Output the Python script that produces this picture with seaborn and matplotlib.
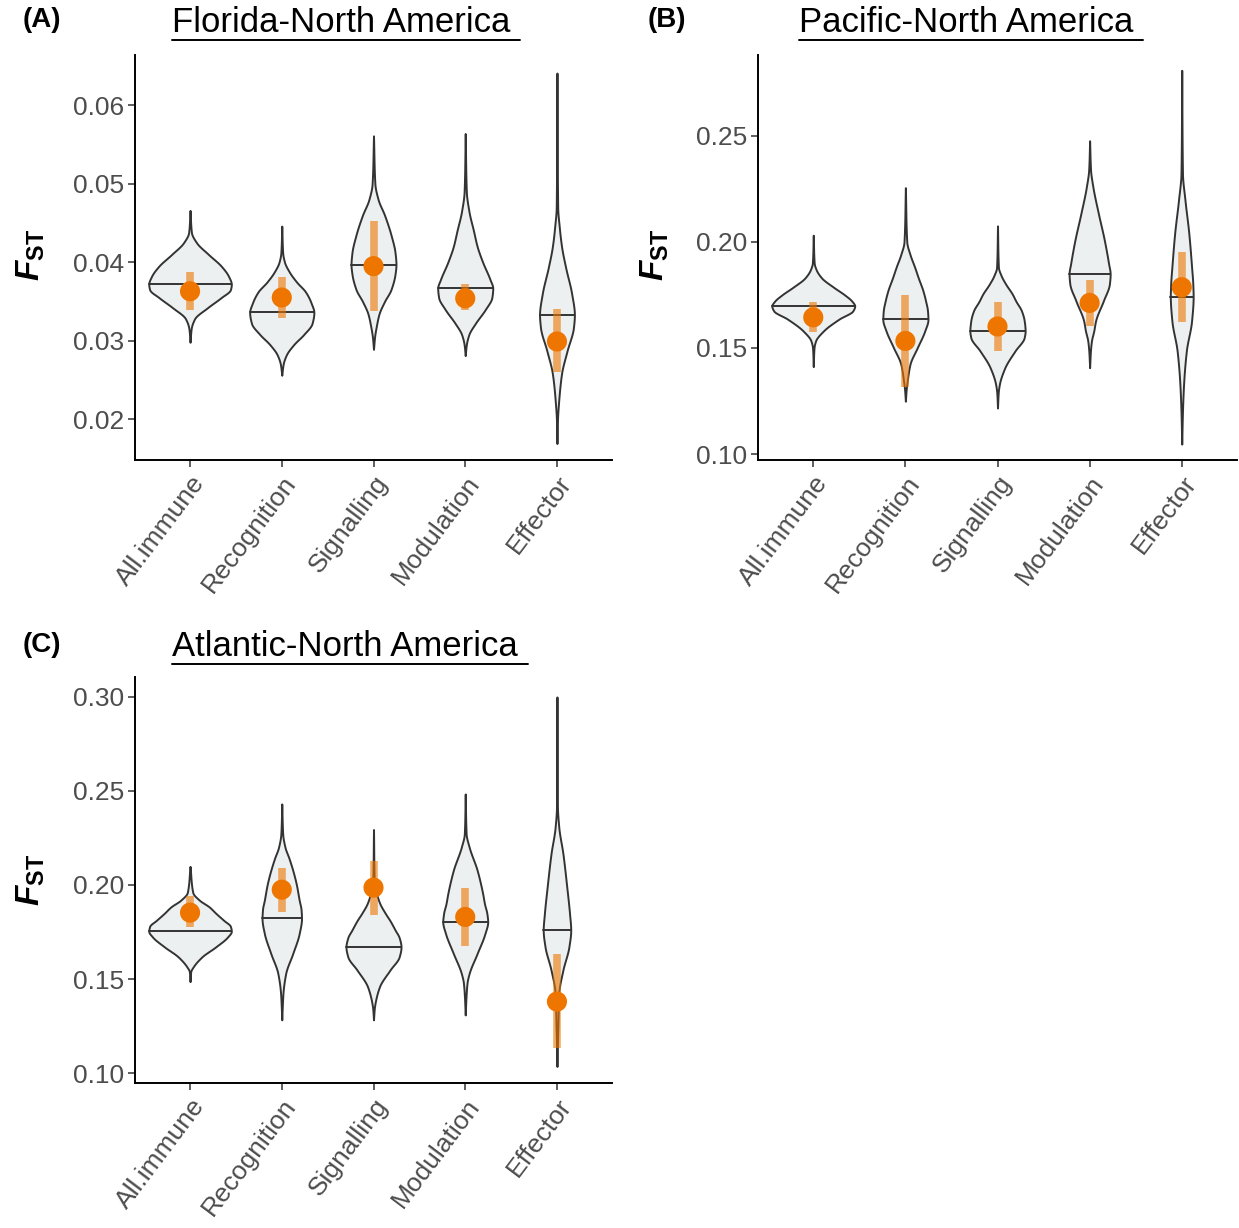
import numpy as np
import matplotlib
matplotlib.use("Agg")
import matplotlib.pyplot as plt
from matplotlib.lines import Line2D
import seaborn as sns

# categories shared by every panel
categories = ["All.immune", "Recognition", "Signalling", "Modulation", "Effector"]
titles = ["Florida-North America ", "Pacific-North America ", "Atlantic-North America "]
tags = ["(A)", "(B)", "(C)"]

# observed FST (orange points) with interval
obs_A = [0.0363, 0.0355, 0.0395, 0.0354, 0.0299]
lo_A = [0.0339, 0.0329, 0.0338, 0.0339, 0.0260]
hi_A = [0.0388, 0.0381, 0.0452, 0.0372, 0.0340]
med_A = [0.0372, 0.0336, 0.0397, 0.0367, 0.0333]

obs_B = [0.1644, 0.1533, 0.1601, 0.1712, 0.1786]
lo_B = [0.1573, 0.1315, 0.1486, 0.1604, 0.1620]
hi_B = [0.1715, 0.1751, 0.1718, 0.1818, 0.1952]
med_B = [0.1698, 0.1634, 0.1580, 0.1849, 0.1742]

obs_C = [0.1853, 0.1975, 0.1986, 0.1830, 0.1380]
lo_C = [0.1777, 0.1855, 0.1841, 0.1677, 0.1133]
hi_C = [0.1940, 0.2092, 0.2127, 0.1984, 0.1631]
med_C = [0.1754, 0.1822, 0.1671, 0.1804, 0.1760]

# null distribution outlines: FST level and half width
vy_A = [
    [0.0298, 0.0315, 0.0328, 0.0342, 0.0355, 0.0365, 0.0372, 0.0382, 0.0395, 0.0410, 0.0425, 0.0438, 0.0466],
    [0.0256, 0.0270, 0.0282, 0.0295, 0.0308, 0.0322, 0.0336, 0.0348, 0.0362, 0.0375, 0.0388, 0.0400, 0.0412, 0.0446],
    [0.0289, 0.0305, 0.0318, 0.0334, 0.0350, 0.0365, 0.0385, 0.0397, 0.0412, 0.0435, 0.0460, 0.0480, 0.0500, 0.0561],
    [0.0281, 0.0295, 0.0308, 0.0322, 0.0340, 0.0355, 0.0367, 0.0378, 0.0400, 0.0420, 0.0440, 0.0465, 0.0490, 0.0564],
    [0.0169, 0.0200, 0.0225, 0.0258, 0.0287, 0.0317, 0.0333, 0.0360, 0.0393, 0.0420, 0.0445, 0.0470, 0.0641],
]
vw_A = [
    [0, 0.012, 0.05, 0.19, 0.34, 0.44, 0.45, 0.42, 0.34, 0.20, 0.07, 0.015, 0],
    [0, 0.015, 0.05, 0.13, 0.24, 0.33, 0.35, 0.32, 0.26, 0.16, 0.08, 0.03, 0.01, 0],
    [0, 0.012, 0.03, 0.06, 0.12, 0.19, 0.235, 0.245, 0.235, 0.19, 0.12, 0.05, 0.015, 0],
    [0, 0.012, 0.04, 0.11, 0.22, 0.29, 0.30, 0.27, 0.19, 0.13, 0.09, 0.04, 0.012, 0],
    [0, 0.006, 0.02, 0.05, 0.11, 0.18, 0.19, 0.16, 0.095, 0.05, 0.025, 0.008, 0],
]
vy_B = [
    [0.1412, 0.1500, 0.1533, 0.1580, 0.1636, 0.1675, 0.1698, 0.1720, 0.1750, 0.1786, 0.1830, 0.1870, 0.1900, 0.2031],
    [0.1249, 0.1300, 0.1344, 0.1423, 0.1502, 0.1580, 0.1634, 0.1675, 0.1720, 0.1770, 0.1830, 0.1881, 0.1940, 0.2000, 0.2255],
    [0.1217, 0.1290, 0.1328, 0.1407, 0.1486, 0.1549, 0.1580, 0.1628, 0.1675, 0.1720, 0.1754, 0.1800, 0.1840, 0.1880, 0.2075],
    [0.1407, 0.1480, 0.1533, 0.1580, 0.1628, 0.1723, 0.1802, 0.1849, 0.1897, 0.2007, 0.2133, 0.2260, 0.2340, 0.2476],
    [0.1047, 0.1200, 0.1328, 0.1486, 0.1628, 0.1742, 0.1802, 0.1881, 0.2039, 0.2197, 0.2323, 0.2808],
]
vw_B = [
    [0, 0.008, 0.025, 0.11, 0.28, 0.43, 0.45, 0.42, 0.34, 0.22, 0.09, 0.03, 0.01, 0],
    [0, 0.008, 0.02, 0.05, 0.13, 0.21, 0.245, 0.24, 0.22, 0.19, 0.14, 0.10, 0.05, 0.015, 0],
    [0, 0.008, 0.02, 0.08, 0.19, 0.29, 0.30, 0.29, 0.26, 0.20, 0.16, 0.09, 0.04, 0.01, 0],
    [0, 0.008, 0.02, 0.045, 0.065, 0.15, 0.215, 0.223, 0.206, 0.16, 0.095, 0.035, 0.01, 0],
    [0, 0.008, 0.02, 0.05, 0.107, 0.124, 0.12, 0.107, 0.077, 0.035, 0.008, 0],
]
vy_C = [
    [0.1486, 0.1540, 0.1565, 0.1618, 0.1671, 0.1724, 0.1754, 0.1780, 0.1813, 0.1850, 0.1883, 0.1920, 0.1960, 0.2099],
    [0.1283, 0.1380, 0.1424, 0.1530, 0.1636, 0.1742, 0.1822, 0.1870, 0.1919, 0.2000, 0.2060, 0.2140, 0.2201, 0.2272, 0.2431],
    [0.1283, 0.1340, 0.1371, 0.1459, 0.1548, 0.1618, 0.1671, 0.1720, 0.1760, 0.1810, 0.1848, 0.1900, 0.1936, 0.1989, 0.2295],
    [0.1309, 0.1400, 0.1480, 0.1530, 0.1636, 0.1742, 0.1804, 0.1848, 0.1900, 0.1954, 0.2078, 0.2201, 0.2272, 0.2484],
    [0.1035, 0.1150, 0.1250, 0.1424, 0.1548, 0.1671, 0.1760, 0.1848, 0.1989, 0.2166, 0.2307, 0.2420, 0.3000],
]
vw_C = [
    [0, 0.008, 0.035, 0.13, 0.28, 0.41, 0.45, 0.44, 0.365, 0.28, 0.21, 0.10, 0.03, 0],
    [0, 0.008, 0.013, 0.043, 0.12, 0.19, 0.215, 0.21, 0.19, 0.16, 0.13, 0.08, 0.035, 0.01, 0],
    [0, 0.008, 0.017, 0.065, 0.18, 0.28, 0.30, 0.28, 0.236, 0.18, 0.13, 0.07, 0.043, 0.01, 0],
    [0, 0.008, 0.02, 0.043, 0.13, 0.215, 0.245, 0.236, 0.21, 0.19, 0.13, 0.043, 0.01, 0],
    [0, 0.005, 0.01, 0.02, 0.065, 0.13, 0.15, 0.137, 0.107, 0.065, 0.02, 0.005, 0],
]

ticks_A = [0.02, 0.03, 0.04, 0.05, 0.06]
ticks_B = [0.10, 0.15, 0.20, 0.25]
ticks_C = [0.10, 0.15, 0.20, 0.25, 0.30]

sns.set_style("ticks")
plt.rcParams["font.family"] = ["Liberation Sans", "DejaVu Sans"]
plt.rcParams["mathtext.fontset"] = "custom"
plt.rcParams["mathtext.bf"] = "Liberation Sans:bold"
plt.rcParams["mathtext.it"] = "Liberation Sans:italic"
plt.rcParams["mathtext.bfit"] = "Liberation Sans:bold:italic"

W, H = 1239, 1228
fig = plt.figure(figsize=(W / 100, H / 100), dpi=100)


def px(x0, y0, x1, y1):
    # pixel box (left, top, right, bottom) -> figure fraction rect
    return [x0 / W, 1 - y1 / H, (x1 - x0) / W, (y1 - y0) / H]


def smooth_outline(y, w, n=300):
    # monotone cubic (pchip) through the read-off outline knots, for drawing only
    y = np.asarray(y, float)
    w = np.asarray(w, float)
    h = np.diff(y)
    d = np.diff(w) / h
    m = np.zeros_like(w)
    m[0], m[-1] = d[0], d[-1]
    for k in range(1, len(w) - 1):
        if d[k - 1] * d[k] > 0:
            a = 2 * h[k] + h[k - 1]
            b = h[k] + 2 * h[k - 1]
            m[k] = (a + b) / (a / d[k - 1] + b / d[k])
    yy = np.linspace(y[0], y[-1], n)
    k = np.clip(np.searchsorted(y, yy) - 1, 0, len(h) - 1)
    t = (yy - y[k]) / h[k]
    h00 = 2 * t**3 - 3 * t**2 + 1
    h10 = t**3 - 2 * t**2 + t
    h01 = -2 * t**3 + 3 * t**2
    h11 = t**3 - t**2
    ww = h00 * w[k] + h10 * h[k] * m[k] + h01 * w[k + 1] + h11 * h[k] * m[k + 1]
    return yy, np.clip(ww, 0, None)


def panel(ax, obs, lo, hi, med, vy, vw, ylim, ticks, fmt):
    pos = np.arange(len(categories))
    for i in pos:
        y, w = smooth_outline(vy[i], vw[i])
        ax.fill_betweenx(y, i - w, i + w, facecolor="#EDF0F0", edgecolor="#333333",
                         linewidth=1.4, zorder=1)
        m = np.interp(med[i], y, w)
        ax.plot([i - m, i + m], [med[i], med[i]], color="#333333", lw=1.4, zorder=2)
    ax.vlines(pos, lo, hi, color="#EE7600", alpha=0.6, lw=5.5, zorder=3)
    sns.scatterplot(x=pos, y=obs, ax=ax, color="#EE7600", s=210, edgecolor="none",
                    zorder=4, legend=False)
    ax.set_xlim(-0.6, 4.6)
    ax.set_ylim(*ylim)
    ax.set_yticks(ticks)
    ax.set_yticklabels([fmt.format(t) for t in ticks])
    ax.set_xticks(pos)
    ax.set_xticklabels(categories, rotation=53, ha="right", rotation_mode="anchor")
    ax.tick_params(labelsize=19, labelcolor="#4D4D4D", color="#333333", length=5,
                   width=1.1, pad=3)
    ax.set_xlabel("")
    ax.set_ylabel("")
    sns.despine(ax=ax)
    for s in ["left", "bottom"]:
        ax.spines[s].set_linewidth(1.4)
        ax.spines[s].set_color("black")


axA = fig.add_axes(px(135, 55, 612, 460))
axB = fig.add_axes(px(758, 55, 1237, 460))
axC = fig.add_axes(px(135, 677, 612, 1083))

panel(axA, obs_A, lo_A, hi_A, med_A, vy_A, vw_A, (0.0148, 0.0664), ticks_A, "{:.2f}")
panel(axB, obs_B, lo_B, hi_B, med_B, vy_B, vw_B, (0.0972, 0.288), ticks_B, "{:.2f}")
panel(axC, obs_C, lo_C, hi_C, med_C, vy_C, vw_C, (0.0947, 0.3106), ticks_C, "{:.2f}")

ylab = r"$\mathbfit{F}_{\mathbf{ST}}$"
title_pos = [(346, 22), (971, 22), (350, 646)]
tag_pos = [(42, 20), (667, 20), (42, 645)]
ylab_pos = [(31, 255), (655, 255), (31, 880)]

fig.canvas.draw()
renderer = fig.canvas.get_renderer()
for t, (tx, ty), tg, (gx, gy), (lx, ly) in zip(titles, title_pos, tags, tag_pos, ylab_pos):
    txt = fig.text(tx / W, 1 - ty / H, t, ha="center", va="center", fontsize=25, color="black")
    fig.text(gx / W, 1 - gy / H, tg, ha="center", va="center", fontsize=20,
             fontweight="bold", color="black")
    fig.text(lx / W, 1 - ly / H, ylab, ha="center", va="center", fontsize=24,
             rotation=90, color="black")
    bb = txt.get_window_extent(renderer=renderer)
    x0, x1 = bb.x0 / W, bb.x1 / W
    yline = (bb.y0 - 1) / H
    fig.add_artist(Line2D([x0, x1], [yline, yline], transform=fig.transFigure,
                          color="black", lw=1.4))

fig.savefig("out.png", dpi=100)
